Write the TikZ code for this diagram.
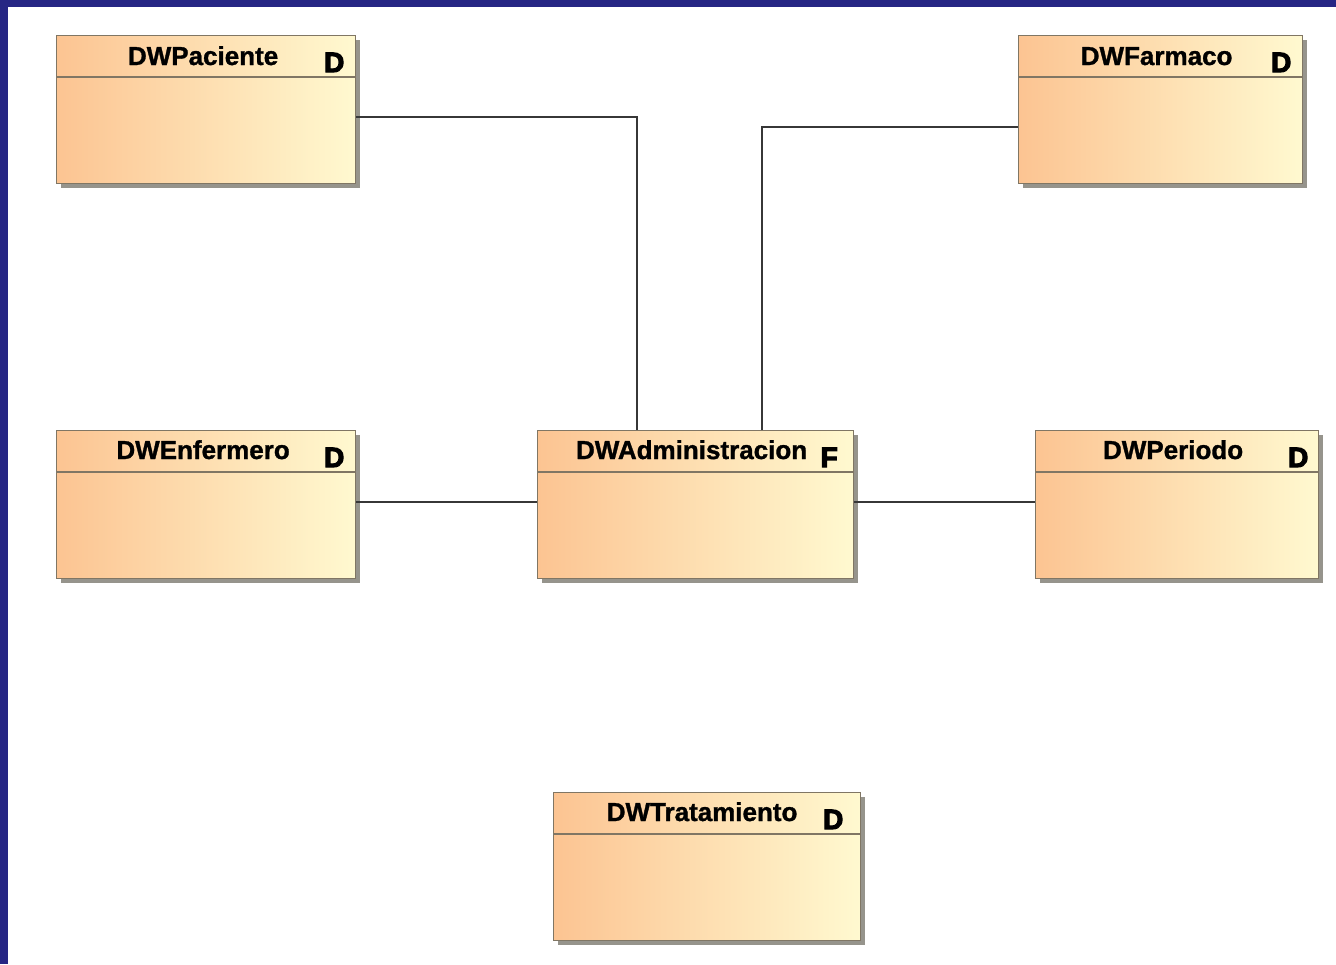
\documentclass[tikz,border=0pt]{standalone}
\usepackage{fontspec}
\setmainfont{Liberation Sans}
\newfontfamily\tfont{Liberation Sans}[BoldFeatures={FakeBold=1.2}]
\newfontfamily\dfont{Liberation Sans}[BoldFeatures={FakeBold=4}]
\usetikzlibrary{calc,shadows}
\definecolor{boxL}{RGB}{252,196,146}
\definecolor{boxR}{RGB}{255,249,208}
\definecolor{boxEdge}{RGB}{128,118,100}
\definecolor{shadowC}{RGB}{150,148,140}
\definecolor{frameBlue}{RGB}{38,38,132}
\definecolor{wire}{RGB}{55,55,55}
\tikzset{
  tbox/.style={rectangle, anchor=north west, inner sep=0pt, draw=boxEdge, line width=1.2pt,
    left color=boxL, right color=boxR,
    drop shadow={shadow xshift=4pt, shadow yshift=-4pt, fill=shadowC, opacity=1}},
  ttl/.style={anchor=base, font=\tfont\fontsize{26}{30}\selectfont\bfseries, text=black, inner sep=0pt},
  tag/.style={anchor=base, font=\dfont\fontsize{28}{32}\selectfont\bfseries, text=black, inner sep=0pt},
  hline/.style={draw=boxEdge, line width=1.2pt},
  conn/.style={draw=wire, line width=1.5pt}
}
\begin{document}
\begin{tikzpicture}[x=1pt,y=-1pt]
\useasboundingbox (0,0) rectangle (1336,964);
\fill[white] (0,0) rectangle (1336,964);
\fill[frameBlue] (0,0) rectangle (1336,7);
\fill[frameBlue] (0,0) rectangle (8,964);

% boxes
\node[tbox, minimum width=299pt, minimum height=148pt] (pac) at (56,35) {};
\node[tbox, minimum width=284pt, minimum height=148pt] (far) at (1018,35) {};
\node[tbox, minimum width=299pt, minimum height=148pt] (enf) at (56,430) {};
\node[tbox, minimum width=316pt, minimum height=148pt] (adm) at (537,430) {};
\node[tbox, minimum width=283pt, minimum height=148pt] (per) at (1035,430) {};
\node[tbox, minimum width=307pt, minimum height=148pt] (tra) at (553,792) {};

% header separators
\foreach \b in {pac,far,enf,adm,per,tra}{
  \draw[hline] ($(\b.north west)+(0,42)$) -- ($(\b.north east)+(0,42)$);
}

% titles
\node[ttl] (pacT) at ($(pac.north)+(-3,30)$) {DWPaciente};
\node[tag] (pacD) at ($(pac.north east)+(-22,37)$) {D};
\node[ttl] (farT) at ($(far.north)+(-4,30)$) {DWFarmaco};
\node[tag] (farD) at ($(far.north east)+(-22,37)$) {D};
\node[ttl] (enfT) at ($(enf.north)+(-3,29)$) {DWEnfermero};
\node[tag] (enfD) at ($(enf.north east)+(-22,37)$) {D};
\node[ttl] (admT) at ($(adm.north)+(-4,29)$) {DWAdministracion};
\node[tag] (admF) at ($(adm.north east)+(-25,37)$) {F};
\node[ttl] (perT) at ($(per.north)+(-4,29)$) {DWPeriodo};
\node[tag] (perD) at ($(per.north east)+(-21,37)$) {D};
\node[ttl] (traT) at ($(tra.north)+(-5,29)$) {DWTratamiento};
\node[tag] (traD) at ($(tra.north east)+(-28,37)$) {D};

% connectors
\draw[conn] ($(pac.north east)+(0,82)$) -| ($(adm.north west)+(100,0)$);
\draw[conn] ($(far.north west)+(0,92)$) -| ($(adm.north west)+(225,0)$);
\draw[conn] ($(enf.north east)+(0,72)$) -- ($(adm.north west)+(0,72)$);
\draw[conn] ($(adm.north east)+(0,72)$) -- ($(per.north west)+(0,72)$);
\draw[conn] ($(adm.south west)+(149,0)$) -- ($(adm.south west)+(149,0)$ |- tra.north);
\end{tikzpicture}
\end{document}
